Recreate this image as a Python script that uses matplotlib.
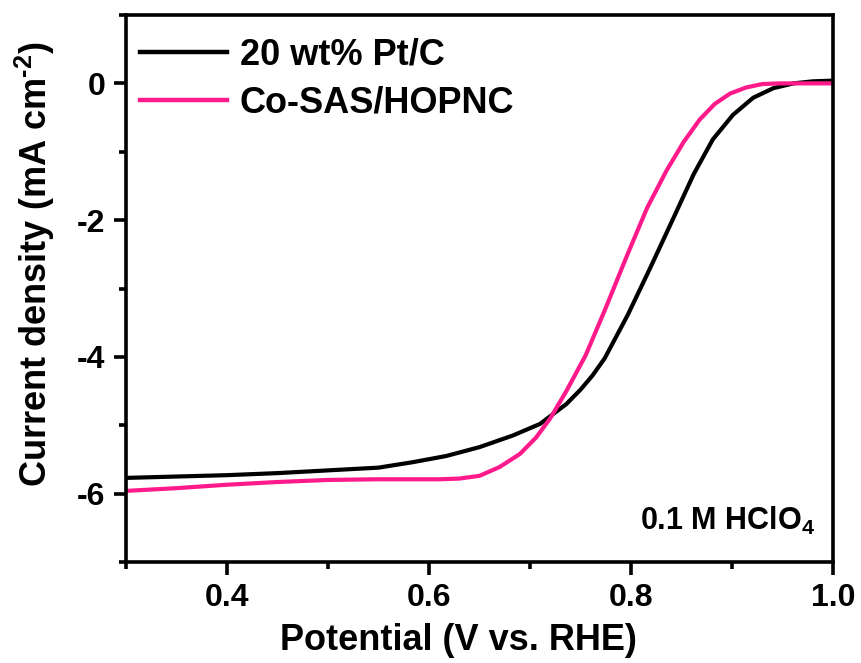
import matplotlib
matplotlib.use("Agg")
import matplotlib.pyplot as plt
import numpy as np
from matplotlib.ticker import MultipleLocator

plt.rcParams['font.family'] = ['Liberation Sans', 'DejaVu Sans']
plt.rcParams['font.weight'] = 'bold'
plt.rcParams['mathtext.fontset'] = 'custom'
plt.rcParams['mathtext.rm'] = 'Liberation Sans:bold'
plt.rcParams['mathtext.default'] = 'rm'

# Data
pt_x = [0.30, 0.35, 0.40, 0.45, 0.50, 0.55, 0.584, 0.617, 0.650, 0.683, 0.710, 0.736, 0.750, 0.762,
        0.774, 0.797, 0.819, 0.842, 0.862, 0.881, 0.901, 0.921, 0.941, 0.961, 0.98, 1.00]
pt_y = [-5.77, -5.75, -5.73, -5.70, -5.66, -5.62, -5.54, -5.45, -5.32, -5.15, -4.98, -4.69, -4.48, -4.27,
        -4.02, -3.38, -2.70, -1.97, -1.33, -0.82, -0.46, -0.21, -0.07, 0.0, 0.03, 0.04]

co_x = [0.30, 0.35, 0.40, 0.45, 0.50, 0.55, 0.611, 0.630, 0.650, 0.670, 0.690, 0.706, 0.720, 0.736,
        0.755, 0.774, 0.796, 0.816, 0.835, 0.852, 0.868, 0.883, 0.898, 0.914, 0.930, 0.947, 0.97, 1.00]
co_y = [-5.96, -5.92, -5.87, -5.83, -5.80, -5.79, -5.79, -5.78, -5.74, -5.61, -5.42, -5.18, -4.90, -4.50,
        -3.98, -3.32, -2.52, -1.82, -1.28, -0.86, -0.53, -0.30, -0.15, -0.06, -0.01, 0.0, 0.0, 0.0]

labels = ["20 wt% Pt/C", "Co-SAS/HOPNC"]
colors = ["#000000", "#FF1A8C"]

fig = plt.figure(figsize=(8.61, 6.63), dpi=100)
ax = fig.add_axes([126/861, 1-562/663, (833-126)/861, (562-15)/663])

ax.plot(pt_x, pt_y, color=colors[0], lw=3.0, label=labels[0], solid_joinstyle='round')
ax.plot(co_x, co_y, color=colors[1], lw=3.0, label=labels[1], solid_joinstyle='round')

ax.set_xlim(0.3, 1.0)
ax.set_ylim(-7, 1)
ax.xaxis.set_minor_locator(MultipleLocator(0.1))
ax.yaxis.set_minor_locator(MultipleLocator(1))
ax.set_xticks([0.4, 0.6, 0.8, 1.0])
ax.set_xticklabels(["0.4", "0.6", "0.8", "1.0"])
ax.set_yticks([0, -2, -4, -6])
ax.set_yticklabels(["0", "-2", "-4", "-6"])

for s in ax.spines.values():
    s.set_linewidth(2.6)
ax.tick_params(which='major', direction='out', length=9, width=2.6, labelsize=23, pad=6)
ax.tick_params(which='minor', direction='out', length=5, width=2.6)
ax.tick_params(top=False, right=False, which='both')

ax.set_xlabel("Potential (V vs. RHE)", fontsize=26, fontweight='bold')
ax.xaxis.set_label_coords(0.47, -0.112)
ax.set_ylabel("Current density (mA cm$^{\u2010 2}$)", fontsize=26, fontweight='bold')
ax.yaxis.set_label_coords(-0.098, 0.545)

leg = ax.legend(loc='upper left', frameon=False, fontsize=26, handlelength=2.4,
                handletextpad=0.35, borderaxespad=0.0, labelspacing=0.35,
                bbox_to_anchor=(0.0, 0.985))
for t in leg.get_texts():
    t.set_fontweight('bold')
for h in leg.get_lines():
    h.set_linewidth(3.2)

ax.text(0.975, 0.045, "0.1 M HClO$_4$", transform=ax.transAxes, ha='right', va='bottom',
        fontsize=22, fontweight='bold')

fig.savefig("out.png", dpi=100)
